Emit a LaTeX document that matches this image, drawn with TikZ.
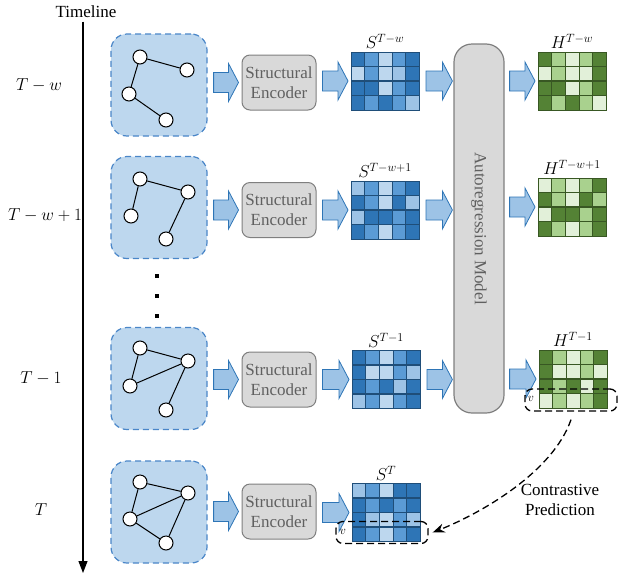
\documentclass[tikz,border=0pt]{standalone}
\usepackage{fontspec}
\setmainfont{Liberation Serif}
\usetikzlibrary{calc,arrows.meta}
\definecolor{bD}{HTML}{2E75B6}
\definecolor{bM}{HTML}{5B9BD5}
\definecolor{bL}{HTML}{BDD7EE}
\definecolor{bP}{HTML}{9DC3E6}
\definecolor{bline}{HTML}{1F4E79}
\definecolor{gD}{HTML}{548235}
\definecolor{gM}{HTML}{A9D18E}
\definecolor{gL}{HTML}{E2F0D9}
\definecolor{gline}{HTML}{385723}
\definecolor{gboxfill}{HTML}{BDD7EE}
\definecolor{gboxline}{HTML}{4A86C8}
\definecolor{arfill}{HTML}{9DC3E6}
\definecolor{arline}{HTML}{2E75B6}
\definecolor{encfill}{HTML}{D9D9D9}
\definecolor{encline}{HTML}{7F7F7F}
\definecolor{enctext}{HTML}{606060}
\newcommand\cellgrid[3]{%
  \foreach \rw [count=\r] in {#3} {
    \foreach \cc [count=\k] in \rw {
      \filldraw[fill=\cc, draw=#2, line width=0.5pt] ($(#1.north west)+({(\k-1)*13.6},{(\r-1)*14.5})$) rectangle ++(13.6,14.5);
    }
  }
  \foreach \r in {1,2,3} \draw[#2, line width=1.5pt] ($(#1.north west)+(0,{\r*14.5})$) -- ++(68,0);
  \draw[#2, line width=1pt] (#1.north west) rectangle (#1.south east);
}
\tikzset{
  vtx/.style={circle, draw=black, fill=white, line width=1pt, minimum size=14pt, inner sep=0pt},
  edge/.style={line width=1pt, black},
  gbox/.style={draw=gboxline, fill=gboxfill, line width=1.2pt, dash pattern=on 6pt off 4pt, rounded corners=16pt, minimum width=96pt, minimum height=102pt, inner sep=0pt},
  enc/.style={draw=encline, fill=encfill, line width=1pt, rounded corners=8pt, minimum width=74pt, minimum height=55pt, inner sep=0pt, align=center, text=enctext},
  arbox/.style={draw=encline, fill=encfill, line width=1.2pt, rounded corners=18pt, minimum width=50pt, minimum height=369pt, inner sep=0pt},
  mat/.style={minimum width=68pt, minimum height=58pt, inner sep=0pt, outer sep=0pt},
  lab/.style={above=3pt, inner sep=0pt},
  hl/.style={draw=black, line width=1.3pt, dash pattern=on 7pt off 4pt, rounded corners=7pt, minimum width=92pt, minimum height=22pt, inner sep=0pt},
  vlab/.style={font=\fontsize{13}{15}\selectfont, inner sep=0pt},
  fatT/.style={fill=arfill, draw=arline, line width=0.8pt, line join=miter,
    to path={let \p1=(\tikztostart), \p2=(\tikztotarget) in
      (\x1,\y2+10pt) -- (\x2-10pt,\y2+10pt) -- (\x2-10pt,\y2+19pt) -- (\x2,\y2) -- (\x2-10pt,\y2-19pt) -- (\x2-10pt,\y2-10pt) -- (\x1,\y2-10pt) -- cycle}},
  fatS/.style={fill=arfill, draw=arline, line width=0.8pt, line join=miter,
    to path={let \p1=(\tikztostart), \p2=(\tikztotarget) in
      (\x1,\y1+10pt) -- (\x2-10pt,\y1+10pt) -- (\x2-10pt,\y1+19pt) -- (\x2,\y1) -- (\x2-10pt,\y1-19pt) -- (\x2-10pt,\y1-10pt) -- (\x1,\y1-10pt) -- cycle}},
}
\begin{document}
\begin{tikzpicture}[x=1pt, y=-1pt, font=\fontsize{17}{20}\selectfont]
\useasboundingbox (0,0) rectangle (618,576);

% timeline
\node (tl) at (86,12) {Timeline};
\coordinate (tend) at (83,573);
\draw[line width=1.2pt, -{Triangle[length=12pt,width=9pt]}] (tl.south -| tend) -- (tend);
\node (r1) at (39,85) {$T-w$};
\node (r2) at (45,215) {$T-w+1$};
\node (r3) at (41,378) {$T-1$};
\node (r4) at (41,510) {$T$};

% graph boxes
\node[gbox] (g1) at (159,85) {};
\node[gbox] (g2) at (159,207.5) {};
\node[gbox] (g3) at (159,378.5) {};
\node[gbox] (g4) at (159,512) {};

% graph 1
\node[vtx] (a1) at (140,57) {};
\node[vtx] (a2) at (187,70) {};
\node[vtx] (a3) at (129,94) {};
\node[vtx] (a4) at (166,120) {};
\draw[edge] (a1) -- (a2) (a1) -- (a3) (a3) -- (a4);
% graph 2
\node[vtx] (b1) at (140,179) {};
\node[vtx] (b2) at (188,192) {};
\node[vtx] (b3) at (131,216) {};
\node[vtx] (b4) at (166,239) {};
\draw[edge] (b1) -- (b2) (b1) -- (b3) (b2) -- (b4);
% dots
\foreach \yy [count=\i] in {276,296,316} \node[fill=black, minimum size=4pt, inner sep=0pt] (dot\i) at (157,\yy) {};
% graph 3
\node[vtx] (c1) at (140,348) {};
\node[vtx] (c2) at (188,361) {};
\node[vtx] (c3) at (130,386) {};
\node[vtx] (c4) at (166,410) {};
\draw[edge] (c1) -- (c2) (c1) -- (c3) (c3) -- (c2) (c2) -- (c4);
% graph 4
\node[vtx] (d1) at (140,482) {};
\node[vtx] (d2) at (188,493) {};
\node[vtx] (d3) at (130,519) {};
\node[vtx] (d4) at (166,543) {};
\draw[edge] (d1) -- (d2) (d1) -- (d3) (d3) -- (d2) (d2) -- (d4) (d3) -- (d4);

% encoders
\node[enc] (e1) at (279,82.5) {Structural\\Encoder};
\node[enc] (e2) at (279,210) {Structural\\Encoder};
\node[enc] (e3) at (279,379.5) {Structural\\Encoder};
\node[enc] (e4) at (279,511.5) {Structural\\Encoder};

% autoregression model
\node[arbox] (ar) at (479,228.5) {};
\node[rotate=-90, text=enctext] (artext) at (ar.center) {Autoregression Model};

% matrices
\node[mat] (s1) at (385,81) {};
\node[mat] (s2) at (385,210) {};
\node[mat] (s3) at (386,379.5) {};
\node[mat] (s4) at (386,512.5) {};
\node[mat] (h1) at (572,81) {};
\node[mat] (h2) at (572,207) {};
\node[mat] (h3) at (573,379) {};
\cellgrid{s1}{bline}{{bD,bM,bL,bM,bD},{bL,bM,bL,bP,bD},{bD,bD,bL,bM,bD},{bD,bM,bD,bM,bP}}
\cellgrid{s2}{bline}{{bP,bM,bL,bM,bD},{bD,bM,bL,bD,bP},{bP,bD,bD,bM,bD},{bD,bM,bL,bM,bD}}
\cellgrid{s3}{bline}{{bD,bM,bL,bM,bD},{bD,bL,bL,bM,bP},{bD,bM,bD,bP,bD},{bP,bM,bL,bM,bD}}
\cellgrid{s4}{bline}{{bP,bM,bL,bD,bD},{bD,bM,bD,bM,bD},{bD,bP,bL,bM,bP},{bD,bM,bL,bM,bD}}
\cellgrid{h1}{gline}{{gD,gM,gL,gM,gD},{gL,gM,gL,gL,gD},{gD,gD,gL,gM,gD},{gD,gM,gD,gM,gL}}
\cellgrid{h2}{gline}{{gL,gM,gL,gM,gD},{gD,gM,gL,gD,gM},{gL,gD,gD,gM,gD},{gD,gM,gL,gM,gD}}
\cellgrid{h3}{gline}{{gD,gM,gL,gM,gD},{gD,gL,gL,gM,gL},{gD,gM,gD,gL,gD},{gL,gM,gL,gM,gD}}

% matrix labels
\node[lab] (ls1) at (s1.north) {$S^{T-w}$};
\node[lab] (ls2) at (s2.north) {$S^{T-w+1}$};
\node[lab] (ls3) at (s3.north) {$S^{T-1}$};
\node[lab] (ls4) at (s4.north) {$S^{T}$};
\node[lab] (lh1) at (h1.north) {$H^{T-w}$};
\node[lab] (lh2) at (h2.north) {$H^{T-w+1}$};
\node[lab] (lh3) at (h3.north) {$H^{T-1}$};

% fat arrows
\foreach \i in {1,2,3,4} {
  \draw[fatT] ([xshift=6pt]g\i.east) to ([xshift=-3pt]e\i.west);
  \draw[fatT] ([xshift=6pt]e\i.east) to ([xshift=-3pt]s\i.west);
}
\foreach \i in {1,2,3} {
  \draw[fatS] ([xshift=7pt]s\i.east) to ([xshift=-1pt]ar.west);
  \draw[fatT] ([xshift=5pt]ar.east) to ([xshift=-3pt]h\i.west);
}

% highlights
\node[hl] (hv) at (571,400) {};
\node[hl] (sv) at (382,532.5) {};
\node[vlab] (hvl) at (531,399) {$v$};
\node[vlab] (svl) at (343,532) {$v$};

% contrastive prediction
\draw[line width=1.3pt, dash pattern=on 7pt off 4pt, -{Stealth[length=12pt,width=9pt]}]
  ([yshift=-8pt]hv.south) .. controls +(-18,52) and +(50,-20) .. ([xshift=4pt]sv.east);
\node[align=center] (cp) at (560,500) {Contrastive\\Prediction};
\end{tikzpicture}
\end{document}
